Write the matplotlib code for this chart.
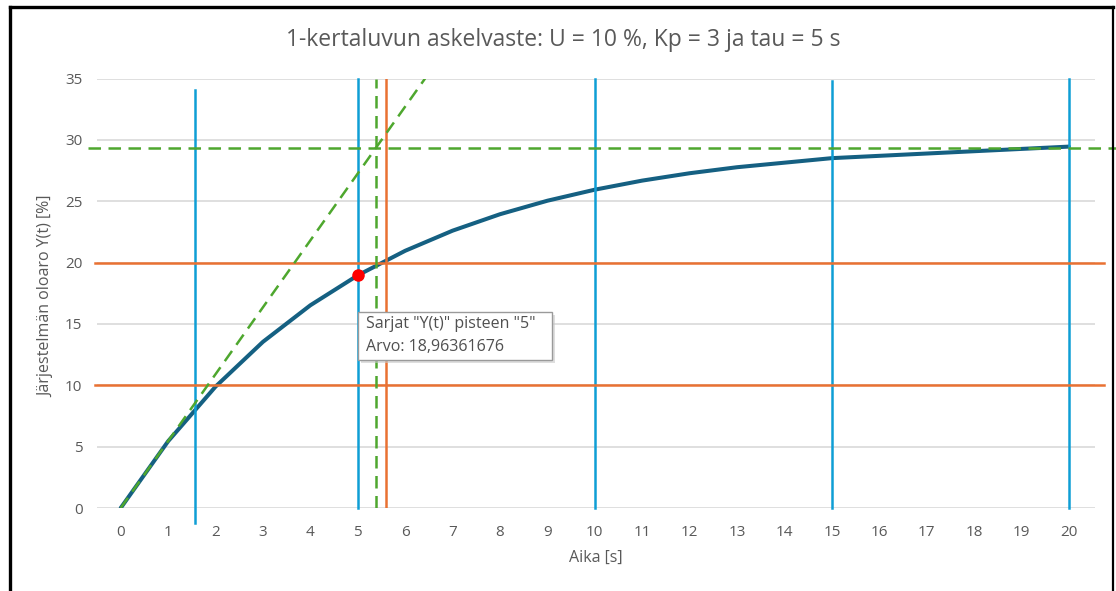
import matplotlib
matplotlib.use("Agg")
import matplotlib.pyplot as plt
from matplotlib.lines import Line2D
from matplotlib.patches import Rectangle

plt.rcParams['font.family'] = ['Open Sans', 'DejaVu Sans']

# ---- data ----
t_values = [0, 1, 2, 3, 4, 5, 6, 7, 8, 9, 10, 11, 12, 13, 15, 20]
y_values = [0, 5.44, 9.89, 13.54, 16.52, 18.96, 20.96, 22.60, 23.94, 25.04,
            25.94, 26.68, 27.28, 27.77, 28.51, 29.45]
x_ticks = list(range(0, 21))
y_ticks = [0, 5, 10, 15, 20, 25, 30, 35]

# helper lines
blue_vlines_x = [1.56, 5, 10, 15, 20]
blue_vlines_y0 = [-1.2, 0, 0, 0, 0]
blue_vlines_y1 = [34.1, 35, 35, 34.8, 35]
orange_vline_x = 5.59
orange_hlines_y = [10, 20]
green_hline_y = 29.3
green_vline_x = 5.38
tangent_x = [0, 6.42]
tangent_y = [0, 35]
marker_t = 5
marker_y = 18.96361676

title = "1-kertaluvun askelvaste: U = 10 %, Kp = 3 ja tau = 5 s"
xlabel = "Aika [s]"
ylabel = "Järjestelmän oloaro Y(t) [%]"
tooltip_lines = ['Sarjat "Y(t)" pisteen "5"', 'Arvo: 18,96361676']

C_CURVE = '#156082'
C_BLUE = '#0F9ED5'
C_ORANGE = '#E97132'
C_GREEN = '#4EA72E'
C_TEXT = '#595959'
C_GRID = '#D9D9D9'

W, H = 1116, 591
fig = plt.figure(figsize=(W / 100, H / 100), dpi=100)
fig.patch.set_facecolor('white')

def fx(px):
    return px / W

def fy(py):
    return 1 - py / H

ax = fig.add_axes([fx(97), fy(508), (1095 - 97) / W, (508 - 78.5) / H])
ax.set_xlim(-0.5, 20.55)
ax.set_ylim(0, 35)
for s in ax.spines.values():
    s.set_visible(False)
ax.set_yticks(y_ticks)
ax.set_xticks(x_ticks)
ax.yaxis.grid(True, color=C_GRID, linewidth=1.2)
ax.set_axisbelow(True)
ax.tick_params(axis='both', length=0, labelsize=11, labelcolor=C_TEXT)
ax.tick_params(axis='x', pad=12.5)
ax.tick_params(axis='y', pad=10.5)

# curve
ax.plot(t_values, y_values, color=C_CURVE, linewidth=2.9, zorder=3,
        solid_capstyle='round', solid_joinstyle='round')

# blue verticals
for x, y0, y1 in zip(blue_vlines_x, blue_vlines_y0, blue_vlines_y1):
    ax.plot([x, x], [y0, y1], color=C_BLUE, linewidth=1.8, zorder=4, clip_on=False)

# orange lines
ax.plot([orange_vline_x, orange_vline_x], [0, 35], color=C_ORANGE, linewidth=1.8, zorder=4)
for yy in orange_hlines_y:
    ax.plot([-0.55, 20.75], [yy, yy], color=C_ORANGE, linewidth=1.8, zorder=4, clip_on=False)

# green dashed lines
ax.plot([-0.68, 21.2], [green_hline_y, green_hline_y], color=C_GREEN, linewidth=1.8,
        linestyle=(0, (5, 3)), zorder=5, clip_on=False)
ax.plot([green_vline_x, green_vline_x], [0, 35], color=C_GREEN, linewidth=1.8,
        linestyle=(0, (5, 3)), zorder=5)
ax.plot(tangent_x, tangent_y, color=C_GREEN, linewidth=1.8,
        linestyle=(0, (5, 3)), zorder=5)

# highlighted point
ax.plot([marker_t], [marker_y], 'o', color='#FF0000', markersize=8, zorder=6)

# tooltip box with shadow
fig.add_artist(Rectangle((fx(361), fy(363)), (552 - 358) / W, (360 - 312) / H,
                         transform=fig.transFigure, facecolor='#C8C8C8',
                         edgecolor='none', alpha=0.6, zorder=9))
fig.add_artist(Rectangle((fx(358), fy(360)), (552 - 358) / W, (360 - 312) / H,
                         transform=fig.transFigure, facecolor='white',
                         edgecolor='#9A9A9A', linewidth=1.0, zorder=10))
for line, py in zip(tooltip_lines, [324, 347]):
    fig.text(fx(366), fy(py), line, ha='left', va='center', fontsize=11.5,
             color='#505050', zorder=11)

fig.text(fx(563), fy(40), title, ha='center', va='center', fontsize=16.5,
         color=C_TEXT)
fig.text(fx(596), fy(558), xlabel, ha='center', va='center', fontsize=11.5,
         color=C_TEXT)
fig.text(fx(46), fy(296), ylabel, ha='center', va='center', fontsize=11.5,
         color=C_TEXT, rotation=90)

# screenshot frame
fig.add_artist(Line2D([fx(9.5), fx(9.5)], [0, fy(7)], color='black',
                      linewidth=2.4, transform=fig.transFigure))
fig.add_artist(Line2D([fx(9.5), fx(1113)], [fy(7), fy(7)], color='black',
                      linewidth=2.4, transform=fig.transFigure))
fig.add_artist(Line2D([fx(1113), fx(1113)], [0, fy(7)], color='black',
                      linewidth=1.6, transform=fig.transFigure))

fig.savefig('out.png', dpi=100, facecolor='white')
